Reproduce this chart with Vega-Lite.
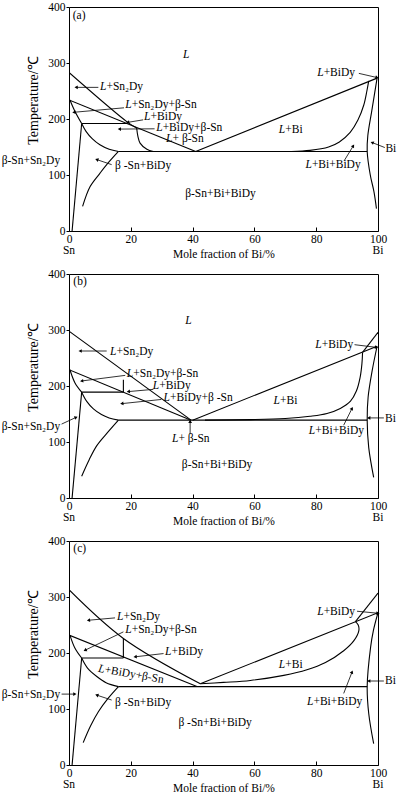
{
"$schema": "https://vega.github.io/schema/vega-lite/v6.json",
"background": "white",
"padding": {"left": 1, "top": 0, "right": 0, "bottom": 0},
"data": {"values": [
{"p":"a","k":"ln","g":"a1","x":0,"y":283},{"p":"a","k":"ln","g":"a1","x":19,"y":194},{"p":"a","k":"ln","g":"a1","x":21.9,"y":184},
{"p":"a","k":"ln","g":"a2","x":0,"y":234},{"p":"a","k":"ln","g":"a2","x":41,"y":142},
{"p":"a","k":"ln","g":"a3","x":4.1,"y":192},{"p":"a","k":"ln","g":"a3","x":19,"y":192},
{"p":"a","k":"ln","g":"a4","x":0.3,"y":234},{"p":"a","k":"ln","g":"a4","x":1.9,"y":214},{"p":"a","k":"ln","g":"a4","x":4.1,"y":192},
{"p":"a","k":"ln","g":"a5","x":4.1,"y":192},{"p":"a","k":"ln","g":"a5","x":5.5,"y":178},{"p":"a","k":"ln","g":"a5","x":7.5,"y":165},{"p":"a","k":"ln","g":"a5","x":10,"y":154},{"p":"a","k":"ln","g":"a5","x":13,"y":146},{"p":"a","k":"ln","g":"a5","x":16,"y":142},
{"p":"a","k":"ln","g":"a6","x":4.1,"y":192},{"p":"a","k":"ln","g":"a6","x":1.0,"y":0},
{"p":"a","k":"ln","g":"a7","x":16,"y":142},{"p":"a","k":"ln","g":"a7","x":12.2,"y":118.5},{"p":"a","k":"ln","g":"a7","x":10,"y":103},{"p":"a","k":"ln","g":"a7","x":6.8,"y":79},{"p":"a","k":"ln","g":"a7","x":4.4,"y":44},
{"p":"a","k":"ln","g":"a8","x":16,"y":142},{"p":"a","k":"ln","g":"a8","x":96.5,"y":142},
{"p":"a","k":"ln","g":"a9","x":21.9,"y":184},{"p":"a","k":"ln","g":"a9","x":22.3,"y":169},{"p":"a","k":"ln","g":"a9","x":23,"y":157},{"p":"a","k":"ln","g":"a9","x":25.2,"y":146},{"p":"a","k":"ln","g":"a9","x":27.3,"y":142},
{"p":"a","k":"ln","g":"a10","x":41,"y":142},{"p":"a","k":"ln","g":"a10","x":99.7,"y":273},
{"p":"a","k":"ln","g":"a11","x":72,"y":142},{"p":"a","k":"ln","g":"a11","x":78,"y":144},{"p":"a","k":"ln","g":"a11","x":84,"y":150},{"p":"a","k":"ln","g":"a11","x":87.5,"y":159},{"p":"a","k":"ln","g":"a11","x":91,"y":176},{"p":"a","k":"ln","g":"a11","x":93.5,"y":198},{"p":"a","k":"ln","g":"a11","x":95.4,"y":225},{"p":"a","k":"ln","g":"a11","x":96.4,"y":250},{"p":"a","k":"ln","g":"a11","x":97,"y":268},
{"p":"a","k":"ln","g":"a12","x":99.7,"y":273},{"p":"a","k":"ln","g":"a12","x":98,"y":215},{"p":"a","k":"ln","g":"a12","x":96.7,"y":170},{"p":"a","k":"ln","g":"a12","x":96.5,"y":142},{"p":"a","k":"ln","g":"a12","x":97.5,"y":100},{"p":"a","k":"ln","g":"a12","x":98.7,"y":70},{"p":"a","k":"ln","g":"a12","x":99.5,"y":40},

{"p":"b","k":"ln","g":"b1","x":0,"y":298},{"p":"b","k":"ln","g":"b1","x":39.5,"y":139},
{"p":"b","k":"ln","g":"b2","x":0,"y":229},{"p":"b","k":"ln","g":"b2","x":39.5,"y":139},
{"p":"b","k":"ln","g":"b3","x":4.1,"y":189},{"p":"b","k":"ln","g":"b3","x":17.6,"y":189},
{"p":"b","k":"ln","g":"b4","x":17.6,"y":189},{"p":"b","k":"ln","g":"b4","x":17.6,"y":211},
{"p":"b","k":"ln","g":"b5","x":0.3,"y":229},{"p":"b","k":"ln","g":"b5","x":1.9,"y":206},{"p":"b","k":"ln","g":"b5","x":4.1,"y":189},
{"p":"b","k":"ln","g":"b6","x":4.1,"y":189},{"p":"b","k":"ln","g":"b6","x":5.8,"y":172},{"p":"b","k":"ln","g":"b6","x":7.9,"y":159},{"p":"b","k":"ln","g":"b6","x":10.5,"y":149},{"p":"b","k":"ln","g":"b6","x":13,"y":143},{"p":"b","k":"ln","g":"b6","x":16,"y":139},
{"p":"b","k":"ln","g":"b7","x":4.1,"y":189},{"p":"b","k":"ln","g":"b7","x":1.0,"y":0},
{"p":"b","k":"ln","g":"b8","x":16,"y":139},{"p":"b","k":"ln","g":"b8","x":12.5,"y":117},{"p":"b","k":"ln","g":"b8","x":9,"y":93.5},{"p":"b","k":"ln","g":"b8","x":6.5,"y":68},{"p":"b","k":"ln","g":"b8","x":4.1,"y":39},
{"p":"b","k":"ln","g":"b9","x":16,"y":139},{"p":"b","k":"ln","g":"b9","x":96.5,"y":139},
{"p":"b","k":"ln","g":"b10","x":40,"y":139},{"p":"b","k":"ln","g":"b10","x":99.7,"y":271},
{"p":"b","k":"ln","g":"b11","x":44,"y":139},{"p":"b","k":"ln","g":"b11","x":58.7,"y":140},{"p":"b","k":"ln","g":"b11","x":70,"y":142},{"p":"b","k":"ln","g":"b11","x":78,"y":146},{"p":"b","k":"ln","g":"b11","x":83.5,"y":151},{"p":"b","k":"ln","g":"b11","x":87.8,"y":160},{"p":"b","k":"ln","g":"b11","x":91.1,"y":173},{"p":"b","k":"ln","g":"b11","x":93,"y":191},{"p":"b","k":"ln","g":"b11","x":94.2,"y":215},{"p":"b","k":"ln","g":"b11","x":94.8,"y":240},{"p":"b","k":"ln","g":"b11","x":95,"y":260},
{"p":"b","k":"ln","g":"b12","x":95,"y":260},{"p":"b","k":"ln","g":"b12","x":100,"y":296},
{"p":"b","k":"ln","g":"b13","x":99.7,"y":271},{"p":"b","k":"ln","g":"b13","x":98.1,"y":227},{"p":"b","k":"ln","g":"b13","x":96.8,"y":180},{"p":"b","k":"ln","g":"b13","x":96.5,"y":139},{"p":"b","k":"ln","g":"b13","x":97,"y":90},{"p":"b","k":"ln","g":"b13","x":98.6,"y":37},

{"p":"c","k":"ln","g":"c1","x":0,"y":313},{"p":"c","k":"ln","g":"c1","x":17.6,"y":226},{"p":"c","k":"ln","g":"c1","x":42.5,"y":145},
{"p":"c","k":"ln","g":"c2","x":0,"y":232},{"p":"c","k":"ln","g":"c2","x":41.4,"y":140},
{"p":"c","k":"ln","g":"c3","x":4.1,"y":191},{"p":"c","k":"ln","g":"c3","x":17.6,"y":191},
{"p":"c","k":"ln","g":"c4","x":17.6,"y":191},{"p":"c","k":"ln","g":"c4","x":17.6,"y":226},
{"p":"c","k":"ln","g":"c5","x":0.3,"y":232},{"p":"c","k":"ln","g":"c5","x":1.9,"y":209},{"p":"c","k":"ln","g":"c5","x":4.1,"y":191},
{"p":"c","k":"ln","g":"c6","x":4.1,"y":191},{"p":"c","k":"ln","g":"c6","x":6,"y":173},{"p":"c","k":"ln","g":"c6","x":9,"y":158},{"p":"c","k":"ln","g":"c6","x":12,"y":147},{"p":"c","k":"ln","g":"c6","x":16,"y":140},
{"p":"c","k":"ln","g":"c7","x":4.1,"y":191},{"p":"c","k":"ln","g":"c7","x":1.0,"y":0},
{"p":"c","k":"ln","g":"c8","x":16,"y":140},{"p":"c","k":"ln","g":"c8","x":12.5,"y":118},{"p":"c","k":"ln","g":"c8","x":9.5,"y":95},{"p":"c","k":"ln","g":"c8","x":7,"y":70},{"p":"c","k":"ln","g":"c8","x":4.6,"y":40},
{"p":"c","k":"ln","g":"c9","x":16,"y":140},{"p":"c","k":"ln","g":"c9","x":96.5,"y":140},
{"p":"c","k":"ln","g":"c10","x":42.5,"y":145},{"p":"c","k":"ln","g":"c10","x":100,"y":272},
{"p":"c","k":"ln","g":"c11","x":42.5,"y":145},{"p":"c","k":"ln","g":"c11","x":50,"y":147.5},{"p":"c","k":"ln","g":"c11","x":58.7,"y":151},{"p":"c","k":"ln","g":"c11","x":69.5,"y":160},{"p":"c","k":"ln","g":"c11","x":77,"y":170},{"p":"c","k":"ln","g":"c11","x":83,"y":183},{"p":"c","k":"ln","g":"c11","x":88.9,"y":204},{"p":"c","k":"ln","g":"c11","x":92.2,"y":222},{"p":"c","k":"ln","g":"c11","x":93.8,"y":240},{"p":"c","k":"ln","g":"c11","x":93.6,"y":250},{"p":"c","k":"ln","g":"c11","x":92.7,"y":256},
{"p":"c","k":"ln","g":"c12","x":92.7,"y":256},{"p":"c","k":"ln","g":"c12","x":100,"y":307},
{"p":"c","k":"ln","g":"c13","x":100,"y":272},{"p":"c","k":"ln","g":"c13","x":98.5,"y":240},{"p":"c","k":"ln","g":"c13","x":97.6,"y":210},{"p":"c","k":"ln","g":"c13","x":96.5,"y":140},{"p":"c","k":"ln","g":"c13","x":97,"y":92},{"p":"c","k":"ln","g":"c13","x":98.6,"y":38},

{"p":"a","k":"arr","x":9.5,"y":256.5,"x2":2.3,"y2":256.5},
{"p":"a","k":"arr","x":17.8,"y":220,"x2":1.6,"y2":212},
{"p":"a","k":"arr","x":24,"y":198.5,"x2":19,"y2":194},
{"p":"a","k":"arr","x":27.7,"y":182.5,"x2":16.3,"y2":182},
{"p":"a","k":"arr","x":93.8,"y":281.5,"x2":99.7,"y2":274},
{"p":"a","k":"arr","x":102.2,"y":149,"x2":98.1,"y2":158},
{"p":"a","k":"arr","x":89,"y":125,"x2":92,"y2":152},
{"p":"a","k":"arr","x":13.8,"y":118.5,"x2":9,"y2":127.5},
{"p":"b","k":"arr","x":12.2,"y":262.5,"x2":3.6,"y2":262.5},
{"p":"b","k":"arr","x":18.2,"y":219,"x2":4.1,"y2":209},
{"p":"b","k":"arr","x":27.3,"y":194,"x2":19.2,"y2":190},
{"p":"b","k":"arr","x":29.9,"y":176,"x2":17.1,"y2":168.5},
{"p":"b","k":"arr","x":39.2,"y":114,"x2":39.2,"y2":137},
{"p":"b","k":"arr","x":92.4,"y":273.8,"x2":99.5,"y2":269},
{"p":"b","k":"arr","x":101.9,"y":143,"x2":97,"y2":143},
{"p":"b","k":"arr","x":88.9,"y":130,"x2":91.6,"y2":160},
{"p":"b","k":"arr","x":-2.4,"y":132,"x2":2.3,"y2":144},
{"p":"c","k":"arr","x":14.9,"y":262.7,"x2":6.3,"y2":258.5},
{"p":"c","k":"arr","x":17.6,"y":237.7,"x2":5.2,"y2":205},
{"p":"c","k":"arr","x":30.6,"y":199,"x2":21.4,"y2":193.2},
{"p":"c","k":"arr","x":93.2,"y":274.6,"x2":100,"y2":271},
{"p":"c","k":"arr","x":101.9,"y":150,"x2":97,"y2":150},
{"p":"c","k":"arr","x":88.9,"y":127.8,"x2":91.6,"y2":166},
{"p":"c","k":"arr","x":-2.4,"y":126.6,"x2":1.9,"y2":126.6},
{"p":"c","k":"arr","x":13.8,"y":116,"x2":9,"y2":124.8},

{"p":"a","k":"lab","x":1.2,"y":384,"t":"(a)"},
{"p":"a","k":"lab","x":36.9,"y":314,"t":"L"},
{"p":"a","k":"lab","x":10,"y":256.6,"t":"L+Sn₂Dy"},
{"p":"a","k":"lab","x":18.2,"y":224.5,"t":"L+Sn₂Dy+β-Sn"},
{"p":"a","k":"lab","x":24.3,"y":204,"t":"L+BiDy"},
{"p":"a","k":"lab","x":28.2,"y":184,"t":"L+BiDy+β-Sn"},
{"p":"a","k":"lab","x":31.4,"y":164,"t":"L+ β-Sn"},
{"p":"a","k":"lab","x":67.9,"y":180.7,"t":"L+Bi"},
{"p":"a","k":"lab","x":80.3,"y":281.5,"t":"L+BiDy"},
{"p":"a","k":"lab","x":102.4,"y":146,"t":"Bi"},
{"p":"a","k":"lab","x":76.5,"y":117.3,"t":"L+Bi+BiDy"},
{"p":"a","k":"lab","x":-21.8,"y":124.4,"t":"β-Sn+Sn₂Dy"},
{"p":"a","k":"lab","x":14.9,"y":115.6,"t":"β -Sn+BiDy"},
{"p":"a","k":"lab","x":37.6,"y":65.2,"t":"β-Sn+Bi+BiDy"},
{"p":"b","k":"lab","x":1.4,"y":386,"t":"(b)"},
{"p":"b","k":"lab","x":37.6,"y":316.7,"t":"L"},
{"p":"b","k":"lab","x":13.3,"y":261.3,"t":"L+Sn₂Dy"},
{"p":"b","k":"lab","x":18.7,"y":221.4,"t":"L+Sn₂Dy+β-Sn"},
{"p":"b","k":"lab","x":27.1,"y":200,"t":"L+BiDy"},
{"p":"b","k":"lab","x":30.6,"y":179.3,"t":"L+BiDy+β -Sn"},
{"p":"b","k":"lab","x":33.3,"y":105,"t":"L+ β-Sn"},
{"p":"b","k":"lab","x":66.2,"y":173.8,"t":"L+Bi"},
{"p":"b","k":"lab","x":79.7,"y":273.8,"t":"L+BiDy"},
{"p":"b","k":"lab","x":102.3,"y":141,"t":"Bi"},
{"p":"b","k":"lab","x":77.6,"y":120,"t":"L+Bi+BiDy"},
{"p":"b","k":"lab","x":-21.8,"y":126,"t":"β-Sn+Sn₂Dy"},
{"p":"b","k":"lab","x":36.5,"y":59,"t":"β-Sn+Bi+BiDy"},
{"p":"c","k":"lab","x":1.4,"y":385,"t":"(c)"},
{"p":"c","k":"lab","x":15.5,"y":264.5,"t":"L+Sn₂Dy"},
{"p":"c","k":"lab","x":18.2,"y":240.7,"t":"L+Sn₂Dy+β-Sn"},
{"p":"c","k":"lab","x":31.1,"y":200.9,"t":"L+BiDy"},
{"p":"c","k":"lab","x":9.5,"y":172,"t":"L+BiDy+β-Sn"},
{"p":"c","k":"lab","x":67.9,"y":178.3,"t":"L+Bi"},
{"p":"c","k":"lab","x":80.3,"y":273.4,"t":"L+BiDy"},
{"p":"c","k":"lab","x":102.3,"y":150,"t":"Bi"},
{"p":"c","k":"lab","x":77,"y":113,"t":"L+Bi+BiDy"},
{"p":"c","k":"lab","x":-21.8,"y":124.8,"t":"β-Sn+Sn₂Dy"},
{"p":"c","k":"lab","x":14.9,"y":110,"t":"β -Sn+BiDy"},
{"p":"c","k":"lab","x":35.4,"y":74.3,"t":"β -Sn+Bi+BiDy"},
{"p":"a","k":"ax","x":0,"y":-35,"t":"Sn"},{"p":"a","k":"ax","x":100,"y":-35,"t":"Bi"},
{"p":"b","k":"ax","x":0,"y":-35,"t":"Sn"},{"p":"b","k":"ax","x":100,"y":-35,"t":"Bi"},
{"p":"c","k":"ax","x":0,"y":-35,"t":"Sn"},{"p":"c","k":"ax","x":100,"y":-35,"t":"Bi"}
]},
"facet": {"row": {"field": "p", "type": "nominal", "header": null}},
"spacing": 43,
"bounds": "flush",
"resolve": {"axis": {"x": "independent", "y": "independent"}},
"spec": {
  "width": 309,
  "height": 224,
  "encoding": {
    "x": {"field": "x", "type": "quantitative", "scale": {"domain": [0, 100], "nice": false},
          "axis": {"title": "Mole fraction of Bi/%", "values": [0,20,40,60,80,100], "tickSize": -4, "labelPadding": 6, "labelFlush": false, "titleY": 23, "titleBaseline": "middle"}},
    "y": {"field": "y", "type": "quantitative", "scale": {"domain": [0, 400], "nice": false},
          "axis": {"title": "Temperature/℃", "values": [0,100,200,300,400], "tickSize": 3, "labelPadding": 1, "titleX": -36, "titleY": 93, "titleBaseline": "middle", "titleFontSize": 14}}
  },
  "layer": [
    {"transform": [{"filter": "datum.k=='ln'"}],
     "mark": {"type": "line", "interpolate": "catmull-rom", "color": "black", "strokeWidth": 1.1, "clip": true},
     "encoding": {"detail": {"field": "g"}, "order": {"value": null}}},
    {"transform": [{"filter": "datum.k=='arr'"}],
     "mark": {"type": "rule", "color": "black", "strokeWidth": 0.8},
     "encoding": {"x2": {"field": "x2"}, "y2": {"field": "y2"}}},
    {"transform": [{"filter": "datum.k=='arr'"}, {"calculate": "atan2((datum.x2-datum.x)*3.09,(datum.y2-datum.y)*0.56)*180/PI", "as": "ang"}, {"calculate": "datum.x2", "as": "x"}, {"calculate": "datum.y2", "as": "y"}],
     "mark": {"type": "point", "shape": "triangle-up", "filled": true, "color": "black", "size": 14, "opacity": 1},
     "encoding": {"angle": {"field": "ang", "type": "quantitative", "scale": null}}},
    {"transform": [{"filter": "datum.k=='lab' && indexof(datum.t,'L')!==0"}],
     "mark": {"type": "text", "align": "left", "baseline": "middle", "fontSize": 11.5},
     "encoding": {"text": {"field": "t"}}},
    {"transform": [{"filter": "datum.k=='lab' && indexof(datum.t,'L')===0 && !(datum.p=='c' && datum.t=='L+BiDy+β-Sn')"}],
     "mark": {"type": "text", "align": "left", "baseline": "middle", "fontSize": 11.5, "fontStyle": "italic"},
     "encoding": {"text": {"value": "L"}}},
    {"transform": [{"filter": "datum.k=='lab' && indexof(datum.t,'L')===0 && !(datum.p=='c' && datum.t=='L+BiDy+β-Sn')"}, {"calculate": "substring(datum.t,1)", "as": "r"}],
     "mark": {"type": "text", "align": "left", "baseline": "middle", "fontSize": 11.5, "dx": 6.5},
     "encoding": {"text": {"field": "r"}}},
    {"transform": [{"filter": "datum.k=='lab' && datum.p=='c' && datum.t=='L+BiDy+β-Sn'"}],
     "mark": {"type": "text", "align": "left", "baseline": "middle", "fontSize": 11.5, "fontStyle": "italic", "angle": 10},
     "encoding": {"text": {"value": "L"}}},
    {"transform": [{"filter": "datum.k=='lab' && datum.p=='c' && datum.t=='L+BiDy+β-Sn'"}, {"calculate": "substring(datum.t,1)", "as": "r"}],
     "mark": {"type": "text", "align": "left", "baseline": "middle", "fontSize": 11.5, "dx": 6.5, "angle": 10},
     "encoding": {"text": {"field": "r"}}},
    {"transform": [{"filter": "datum.k=='ax'"}],
     "mark": {"type": "text", "align": "center", "baseline": "middle", "fontSize": 11.5},
     "encoding": {"text": {"field": "t"}}}
  ]
},
"config": {
  "font": "Liberation Serif",
  "view": {"stroke": "black", "strokeWidth": 1},
  "axis": {"grid": false, "domain": false, "labelFont": "Liberation Serif", "titleFont": "Liberation Serif", "labelColor": "black", "titleColor": "black", "tickColor": "black", "titleFontWeight": "normal", "labelFontSize": 11.5, "titleFontSize": 11.5},
  "text": {"font": "Liberation Serif", "color": "black"}
}
}
